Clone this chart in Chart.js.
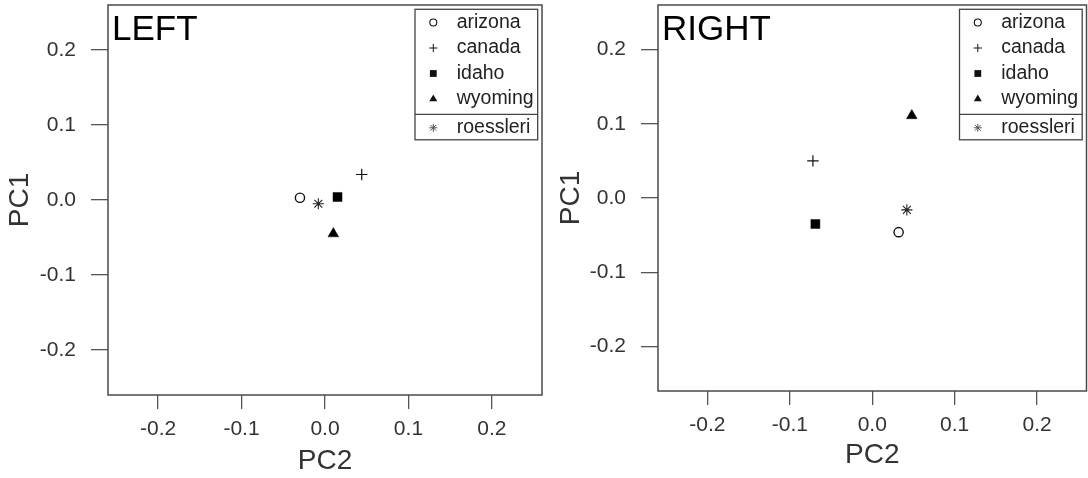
<!DOCTYPE html>
<html>
<head>
<meta charset="utf-8">
<script src="https://cdn.jsdelivr.net/npm/chart.js@4.4.1/dist/chart.umd.min.js"></script>
<style>
html,body{margin:0;padding:0;background:#fff;}
#wrap{position:relative;width:1088px;height:478px;overflow:hidden;background:#fff;}
.panel{position:absolute;top:0;width:544px;height:478px;}
canvas{display:block;}
</style>
</head>
<body>
<div id="wrap">
  <div class="panel" style="left:0"><canvas id="cLeft" width="544" height="478"></canvas></div>
  <div class="panel" style="left:544px"><canvas id="cRight" width="544" height="478"></canvas></div>
</div>
<script>
// ---------------- data ----------------
const populations = ['arizona', 'canada', 'idaho', 'wyoming', 'roessleri'];
const leftPC2  = [-0.030, 0.044, 0.015, 0.010, -0.008];
const leftPC1  = [ 0.003, 0.034, 0.004, -0.045, -0.005];
const rightPC2 = [ 0.032, -0.072, -0.069, 0.048, 0.042];
const rightPC1 = [-0.046, 0.050, -0.035, 0.111, -0.016];
const tickValues = [-0.2, -0.1, 0.0, 0.1, 0.2];
const tickLabels = ['-0.2', '-0.1', '0.0', '0.1', '0.2'];
const panelTitles = ['LEFT', 'RIGHT'];
const xTitle = 'PC2';
const yTitle = 'PC1';

// ---------------- styles ----------------
const FONT = '"Liberation Sans", Arial, Helvetica, sans-serif';
const markerStyles = [
  { shape: 'circle',   radius: 4.6, lw: 1.4, fill: 'rgba(0,0,0,0)', legendRadius: 3.5 },
  { shape: 'cross',    radius: 5.7, lw: 1.2, fill: '#000',          legendRadius: 4.1 },
  { shape: 'rect',     radius: 6.4, lw: 0.5, fill: '#000',          legendRadius: 4.8 },
  { shape: 'triangle', radius: 6.2, lw: 0.5, fill: '#000',          legendRadius: 4.6 },
  { shape: 'star',     radius: 5.6, lw: 1.1, fill: '#000',          legendRadius: 4.0 }
];

function makeDatasets(xs, ys) {
  return populations.map((name, i) => ({
    label: name,
    data: [{ x: xs[i], y: ys[i] }],
    pointStyle: markerStyles[i].shape,
    pointRadius: markerStyles[i].radius,
    pointHoverRadius: markerStyles[i].radius,
    borderWidth: markerStyles[i].lw,
    pointBorderWidth: markerStyles[i].lw,
    borderColor: i === 4 ? '#222' : '#111',
    backgroundColor: markerStyles[i].fill,
    showLine: false
  }));
}

function drawSymbol(ctx, shape, x, y, r, lw, color) {
  ctx.save();
  ctx.strokeStyle = color; ctx.fillStyle = color; ctx.lineWidth = lw;
  ctx.beginPath();
  if (shape === 'circle') {
    ctx.arc(x, y, r, 0, Math.PI * 2); ctx.stroke();
  } else if (shape === 'cross') {
    ctx.moveTo(x - r, y); ctx.lineTo(x + r, y);
    ctx.moveTo(x, y - r); ctx.lineTo(x, y + r); ctx.stroke();
  } else if (shape === 'rect') {
    const s = r * Math.SQRT1_2; ctx.fillRect(x - s, y - s, 2 * s, 2 * s);
  } else if (shape === 'triangle') {
    for (let k = 0; k < 3; k++) {
      const a = k * 2 * Math.PI / 3;
      const px = x + Math.sin(a) * r, py = y - Math.cos(a) * r;
      if (k === 0) ctx.moveTo(px, py); else ctx.lineTo(px, py);
    }
    ctx.closePath(); ctx.fill();
  } else if (shape === 'star') {
    const d = r * Math.SQRT1_2;
    ctx.moveTo(x - r, y); ctx.lineTo(x + r, y);
    ctx.moveTo(x, y - r); ctx.lineTo(x, y + r);
    ctx.moveTo(x - d, y - d); ctx.lineTo(x + d, y + d);
    ctx.moveTo(x - d, y + d); ctx.lineTo(x + d, y - d);
    ctx.stroke();
  }
  ctx.restore();
}

const framePlugin = {
  id: 'framePlugin',
  afterDraw(chart, args, opts) {
    const { ctx, chartArea: a } = chart;
    ctx.save();
    // plot box
    ctx.strokeStyle = '#4a4a4a';
    ctx.lineWidth = 1.5;
    ctx.strokeRect(a.left, a.top, a.right - a.left, a.bottom - a.top);
    // panel title
    ctx.fillStyle = '#000';
    ctx.font = '35px ' + FONT;
    ctx.textAlign = 'left';
    ctx.textBaseline = 'alphabetic';
    ctx.fillText(opts.title, a.left + 4, a.top + 35);
    // legend
    const lw = 122.7, lh = 130.5;
    const lx = a.right - 4.3 - lw, ly = a.top + 4.3;
    ctx.fillStyle = '#fff';
    ctx.fillRect(lx, ly, lw, lh);
    ctx.strokeStyle = '#444';
    ctx.lineWidth = 1.3;
    ctx.strokeRect(lx, ly, lw, lh);
    ctx.beginPath();
    ctx.moveTo(lx, ly + 105); ctx.lineTo(lx + lw, ly + 105);
    ctx.stroke();
    const rows = [13.2, 38.7, 64.2, 89.7, 118.5];
    chart.data.datasets.forEach((ds, i) => {
      const st = markerStyles[i];
      drawSymbol(ctx, st.shape, lx + 18.3, ly + rows[i], st.legendRadius,
                 st.shape === 'circle' ? 1.1 : 1.0, i === 4 ? '#555' : '#111');
      ctx.fillStyle = '#222';
      ctx.font = '19.5px ' + FONT;
      ctx.textAlign = 'left';
      ctx.textBaseline = 'alphabetic';
      ctx.fillText(ds.label, lx + 41.7, ly + rows[i] + 5);
    });
    ctx.restore();
  }
};

function labelFor(v) {
  const k = tickValues.findIndex(t => Math.abs(t - v) < 1e-9);
  return k >= 0 ? tickLabels[k] : '';
}

function makeChart(canvasId, xs, ys, cfg) {
  return new Chart(document.getElementById(canvasId), {
    type: 'scatter',
    data: { datasets: makeDatasets(xs, ys) },
    plugins: [framePlugin],
    options: {
      responsive: false,
      animation: false,
      events: [],
      layout: { autoPadding: false, padding: { left: 0, right: cfg.padRight, top: 5, bottom: 0 } },
      plugins: {
        legend: { display: false },
        tooltip: { enabled: false },
        framePlugin: { title: cfg.title }
      },
      scales: {
        x: {
          type: 'linear', min: -0.26, max: 0.26,
          afterBuildTicks: s => { s.ticks = tickValues.map(v => ({ value: v })); },
          afterFit: s => { s.height = cfg.xAxisHeight; s.paddingLeft = 0; s.paddingRight = 0; s.paddingTop = 0; s.paddingBottom = 0; },
          grid: { drawOnChartArea: false, drawTicks: true, tickLength: 14, color: '#555', lineWidth: 1.3 },
          border: { display: false },
          ticks: { font: { family: FONT, size: 21 }, color: '#333', padding: 8, autoSkip: false, maxRotation: 0, callback: v => labelFor(v) },
          title: { display: true, text: xTitle, font: { family: FONT, size: 28 }, color: '#333', padding: { top: 0, bottom: cfg.xTitlePad } }
        },
        y: {
          type: 'linear', min: -0.26, max: 0.26,
          afterBuildTicks: s => { s.ticks = tickValues.map(v => ({ value: v })); },
          afterFit: s => { s.width = cfg.yAxisWidth; s.paddingLeft = 0; s.paddingRight = 0; s.paddingTop = 0; s.paddingBottom = 0; },
          grid: { drawOnChartArea: false, drawTicks: true, tickLength: 17, color: '#555', lineWidth: 1.3 },
          border: { display: false },
          ticks: { font: { family: FONT, size: 21 }, color: '#333', padding: 15, autoSkip: false, callback: v => labelFor(v) },
          title: { display: true, text: yTitle, font: { family: FONT, size: 28 }, color: '#333', padding: { top: cfg.yTitlePad, bottom: 0 } }
        }
      }
    }
  });
}

makeChart('cLeft', leftPC2, leftPC1, { title: panelTitles[0], padRight: 2, xAxisHeight: 83, yAxisWidth: 108, xTitlePad: 0, yTitlePad: 3.5 });
makeChart('cRight', rightPC2, rightPC1, { title: panelTitles[1], padRight: 1.5, xAxisHeight: 87, yAxisWidth: 114, xTitlePad: 5.5, yTitlePad: 10 });
</script>
</body>
</html>
